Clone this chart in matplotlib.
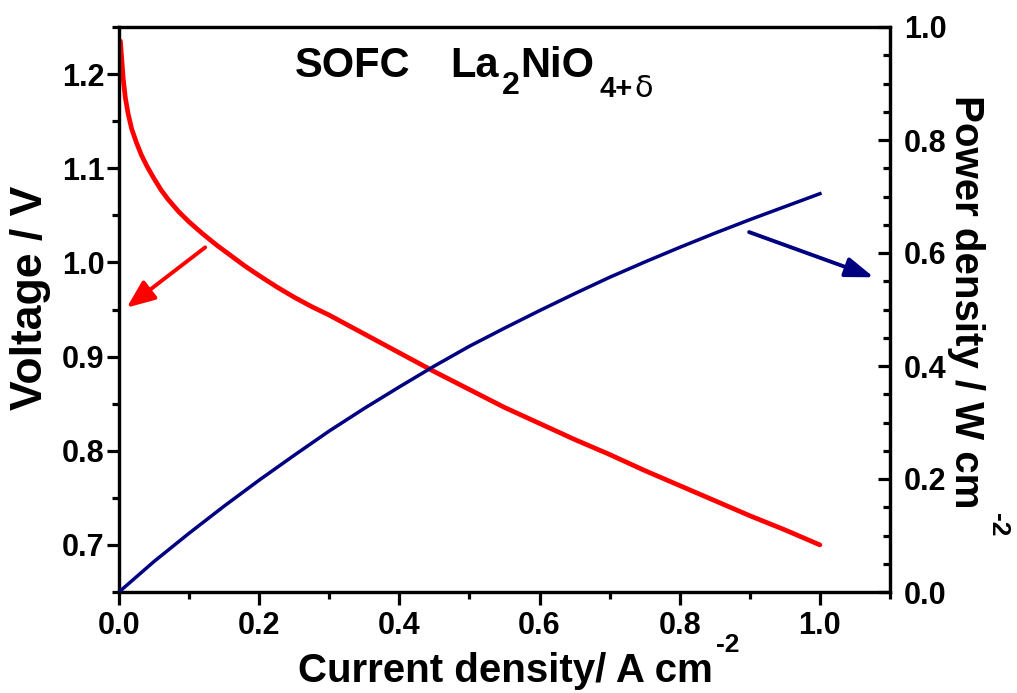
import matplotlib
matplotlib.use("Agg")
import matplotlib.pyplot as plt
from matplotlib.ticker import MultipleLocator

plt.rcParams['font.family'] = ['Liberation Sans', 'DejaVu Sans']
plt.rcParams['font.weight'] = 'bold'

# Voltage curve (current density A cm^-2, voltage V)
j_v = [0.002, 0.004, 0.006, 0.009, 0.013, 0.018, 0.025, 0.032, 0.040, 0.050,
       0.060, 0.070, 0.085, 0.100, 0.120, 0.140, 0.160, 0.180, 0.200, 0.225,
       0.250, 0.275, 0.300, 0.325, 0.350, 0.375, 0.400, 0.450, 0.500, 0.550,
       0.600, 0.650, 0.700, 0.750, 0.800, 0.850, 0.900, 0.950, 1.000]
voltage = [1.235, 1.215, 1.195, 1.175, 1.158, 1.142, 1.127, 1.114, 1.102, 1.089,
           1.077, 1.067, 1.054, 1.043, 1.030, 1.018, 1.007, 0.996, 0.986, 0.974,
           0.963, 0.953, 0.944, 0.934, 0.924, 0.914, 0.904, 0.884, 0.865, 0.846,
           0.829, 0.812, 0.796, 0.779, 0.763, 0.747, 0.731, 0.716, 0.700]

# Power density curve (current density A cm^-2, power W cm^-2)
j_p = [0.0, 0.05, 0.10, 0.15, 0.20, 0.25, 0.30, 0.35, 0.40, 0.45, 0.50,
       0.55, 0.60, 0.65, 0.70, 0.75, 0.80, 0.85, 0.90, 0.95, 1.00]
power = [0.0, 0.054, 0.104, 0.152, 0.198, 0.242, 0.285, 0.325, 0.363, 0.400, 0.435,
         0.467, 0.498, 0.528, 0.557, 0.584, 0.610, 0.635, 0.659, 0.682, 0.705]

x_ticks = [0.0, 0.2, 0.4, 0.6, 0.8, 1.0]
v_ticks = [0.7, 0.8, 0.9, 1.0, 1.1, 1.2]
p_ticks = [0.0, 0.2, 0.4, 0.6, 0.8, 1.0]

W, H = 1017, 693
fig = plt.figure(figsize=(W / 100, H / 100), dpi=100)
ax = fig.add_axes([119 / W, 1 - 592 / H, (890 - 119) / W, (592 - 27) / H])
ax2 = ax.twinx()

def fx(px):
    return px / W

def fy(py):
    return 1 - py / H

ax.plot(j_v, voltage, color='#FF0000', lw=3.4, solid_capstyle='round', zorder=3)
ax2.plot(j_p, power, color='#000080', lw=2.5, zorder=3)

ax.set_xlim(0.0, 1.1)
ax.set_ylim(0.65, 1.25)
ax2.set_ylim(0.0, 1.0)

ax.set_xticks(x_ticks)
ax.set_xticklabels([f"{t:.1f}" for t in x_ticks])
ax.set_yticks(v_ticks)
ax.set_yticklabels([f"{t:.1f}" for t in v_ticks])
ax2.set_yticks(p_ticks)
ax2.set_yticklabels([f"{t:.1f}" for t in p_ticks])
ax.xaxis.set_minor_locator(MultipleLocator(0.1))
ax.yaxis.set_minor_locator(MultipleLocator(0.05))
ax2.yaxis.set_minor_locator(MultipleLocator(0.05))

for a in (ax, ax2):
    for s in a.spines.values():
        s.set_linewidth(2.3)

ax.tick_params(axis='both', which='major', direction='out', length=9, width=2.3,
               labelsize=22)
ax.tick_params(axis='y', which='major', pad=1.5)
ax.tick_params(axis='x', which='major', pad=5)
ax.tick_params(axis='both', which='minor', direction='out', length=5, width=2.3)
ax.tick_params(axis='y', right=False, which='both')
ax.tick_params(axis='x', top=False, which='both')
ax2.tick_params(axis='y', which='major', direction='in', length=9, width=2.3,
                labelsize=22, pad=10)
ax2.tick_params(axis='y', which='minor', direction='in', length=5, width=2.3)

for lbl in ax.get_xticklabels() + ax.get_yticklabels() + ax2.get_yticklabels():
    lbl.set_fontweight('bold')

# axis labels
fig.text(fx(505), fy(682), "Current density/ A cm", ha='center', va='baseline',
         fontsize=29, fontweight='bold')
fig.text(fx(728), fy(652), "-2", ha='center', va='baseline',
         fontsize=19, fontweight='bold')
fig.text(fx(31), fy(298), "Voltage / V", ha='center', va='center', rotation=90,
         fontsize=32, fontweight='bold')
fig.text(fx(966), fy(302), "Power density / W cm", ha='center', va='center',
         rotation=270, fontsize=29, fontweight='bold')
fig.text(fx(998), fy(525), "-2", ha='center', va='center', rotation=270,
         fontsize=19, fontweight='bold')

# title: SOFC La2NiO4+delta
fig.text(fx(295), fy(77), "SOFC", ha='left', va='baseline', fontsize=30,
         fontweight='bold')
fig.text(fx(450), fy(77), "La", ha='left', va='baseline', fontsize=30,
         fontweight='bold')
fig.text(fx(502), fy(94), "2", ha='left', va='baseline', fontsize=23,
         fontweight='bold')
fig.text(fx(520), fy(77), "NiO", ha='left', va='baseline', fontsize=30,
         fontweight='bold')
fig.text(fx(599), fy(97), "4+", ha='left', va='baseline', fontsize=21,
         fontweight='bold')
fig.text(fx(634), fy(97), "\u03b4", ha='left', va='baseline', fontsize=22,
         fontweight='normal', family=['DejaVu Sans'])

ax.annotate("", xy=(0.011, 0.952), xytext=(0.123, 1.016),
            arrowprops=dict(arrowstyle='-|>,head_length=1.7,head_width=0.7',
                            color='#FF0000', lw=2.8, shrinkA=0, shrinkB=0))
ax2.annotate("", xy=(1.077, 0.557), xytext=(0.899, 0.637),
             arrowprops=dict(arrowstyle='-|>,head_length=1.7,head_width=0.6',
                             color='#000080', lw=2.8, shrinkA=0, shrinkB=0))

fig.savefig("out.png", dpi=100)
